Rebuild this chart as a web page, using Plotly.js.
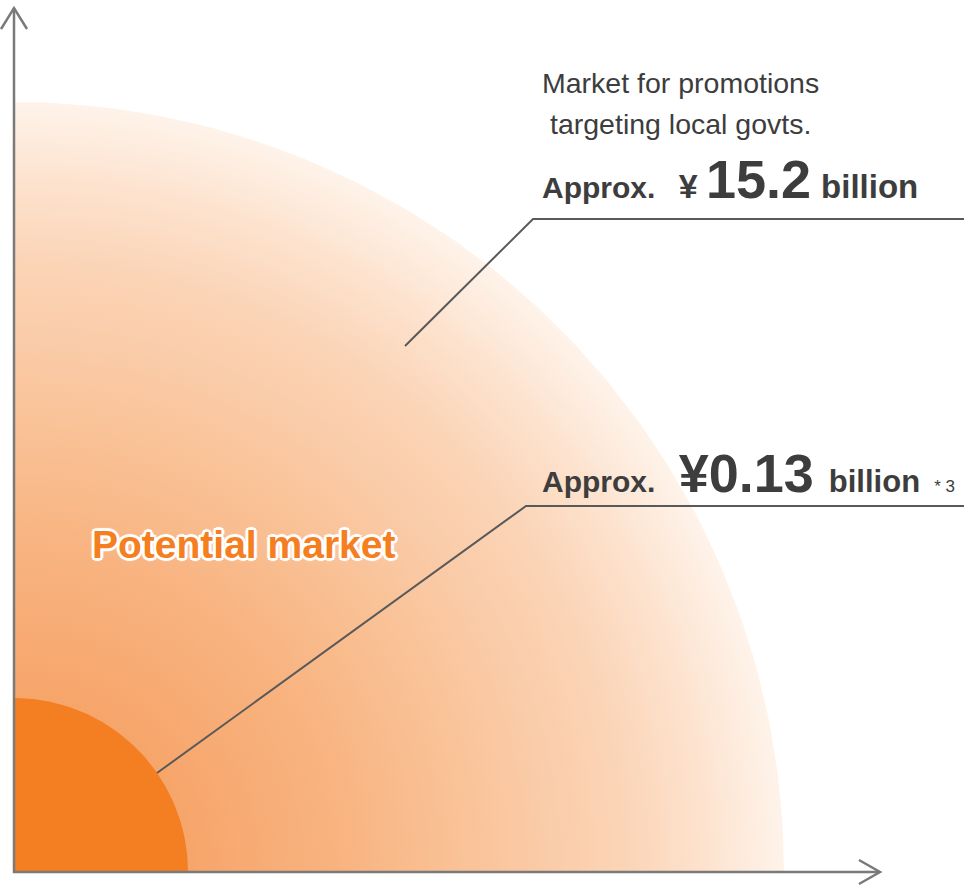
<!DOCTYPE html>
<html>
<head>
<meta charset="utf-8">
<script src="https://cdn.plot.ly/plotly-3.0.1.min.js"></script>
<style>
  html, body { margin: 0; padding: 0; background: #fff; }
  #market_plot { width: 964px; height: 886px; }
</style>
</head>
<body>
<div id="market_plot"></div>
<script>
// market sizes (billion yen) and the radius each circle gets on the chart (axis units)
var segments = ['Market for promotions targeting local govts.', 'Potential market'];
var valuesBn = [15.2, 0.13];
var radius = [770, 174];

// axis ranges, one unit per pixel of the plot area
var XR = 950, YR = 872;

function circle(r) {
	var xs = [], ys = [];
	for (var a = 0; a <= 360; a += 1) {
		xs.push(r * Math.cos(a * Math.PI / 180));
		ys.push(r * Math.sin(a * Math.PI / 180));
	}
	return {x: xs, y: ys};
}

var big = circle(radius[0]);
var small = circle(radius[1]);

var bigTrace = {
	x: big.x, y: big.y,
	name: segments[0],
	type: 'scatter', mode: 'lines',
	line: {width: 0},
	fill: 'toself',
	fillgradient: {
		type: 'radial',
		colorscale: [
			[0, '#f59752'], [0.25, '#f7a76d'], [0.42, '#f8b380'], [0.55, '#f9bf92'],
			[0.65, '#fac8a2'], [0.8, '#fbd5b8'], [0.9, '#fde3cf'], [1, '#fef3ea']
		]
	},
	hoverinfo: 'skip'
};

var smallTrace = {
	x: small.x, y: small.y,
	name: segments[1],
	type: 'scatter', mode: 'lines',
	line: {width: 0},
	fill: 'toself',
	fillcolor: '#f47e22',
	hoverinfo: 'skip'
};

function P(u, v) { return (u / XR) + ' ' + (v / YR); }

var axisColor = '#7a7a7a';
var leadColor = '#595959';
var textColor = '#3d3d3d';
var font = 'Liberation Sans, Arial, sans-serif';

var shapes = [
	// axes with open arrow heads
	{type: 'line', xref: 'paper', yref: 'paper', x0: 0, y0: -1 / YR, x1: 0, y1: 864 / YR, line: {color: axisColor, width: 2.5}},
	{type: 'line', xref: 'paper', yref: 'paper', x0: -1 / XR, y0: 0, x1: 866 / XR, y1: 0, line: {color: axisColor, width: 2.5}},
	{type: 'path', xref: 'paper', yref: 'paper', path: 'M' + P(-13, 843) + ' L' + P(0, 864) + ' L' + P(13, 843), line: {color: axisColor, width: 2.5}},
	{type: 'path', xref: 'paper', yref: 'paper', path: 'M' + P(845, 12) + ' L' + P(866, 0) + ' L' + P(845, -12), line: {color: axisColor, width: 2.5}},
	// leader lines
	{type: 'path', xref: 'x', yref: 'y', path: 'M391,526 L519,653 L950,653', line: {color: leadColor, width: 2}},
	{type: 'path', xref: 'x', yref: 'y', path: 'M143,99 L512,366 L950,366', line: {color: leadColor, width: 2}}
];

var white = '#fff';
var outline = [
	'2px 0 0 ' + white, '-2px 0 0 ' + white, '0 2px 0 ' + white, '0 -2px 0 ' + white,
	'2px 2px 0 ' + white, '-2px -2px 0 ' + white, '2px -2px 0 ' + white, '-2px 2px 0 ' + white,
	'3px 0 1px ' + white, '-3px 0 1px ' + white, '0 3px 1px ' + white, '0 -3px 1px ' + white
].join(', ');

function sp(size, txt) { return '<span style="font-size:' + size + 'px">' + txt + '</span>'; }

var annotations = [
	{x: 526, y: 789, text: 'Market for promotions', font: {size: 28.5, color: textColor, family: font}},
	{x: 534, y: 748, text: 'targeting local govts.', font: {size: 28.5, color: textColor, family: font}},
	{x: 526, y: 693,
		text: '<b>' + sp(30, 'Approx. ') + sp(54, ' ') + sp(34, '¥') + sp(30, ' ') + sp(54, valuesBn[0]) + sp(36, ' ') + sp(33, 'billion') + '</b>',
		font: {size: 30, color: textColor, family: font}},
	{x: 526, y: 399,
		text: '<b>' + sp(30, 'Approx. ') + sp(54, ' ¥' + valuesBn[1] + ' ') + sp(31, 'billion') + '</b>' + sp(17, '   * 3'),
		font: {size: 30, color: textColor, family: font}},
	{x: 76, y: 328, text: '<b>' + segments[1] + '</b>',
		font: {size: 39, color: '#f47e20', family: font, shadow: outline}}
].map(function (a) {
	a.xref = 'x'; a.yref = 'y'; a.showarrow = false;
	a.xanchor = 'left'; a.yanchor = 'middle';
	return a;
});

var layout = {
	width: 964,
	height: 886,
	margin: {l: 14, r: 0, t: 0, b: 14, pad: 0},
	paper_bgcolor: '#fff',
	plot_bgcolor: '#fff',
	showlegend: false,
	hovermode: false,
	xaxis: {range: [0, XR], visible: false, fixedrange: true},
	yaxis: {range: [0, YR], visible: false, fixedrange: true},
	shapes: shapes,
	annotations: annotations
};

Plotly.newPlot('market_plot', [bigTrace, smallTrace], layout, {displayModeBar: false, staticPlot: true});
</script>
</body>
</html>
